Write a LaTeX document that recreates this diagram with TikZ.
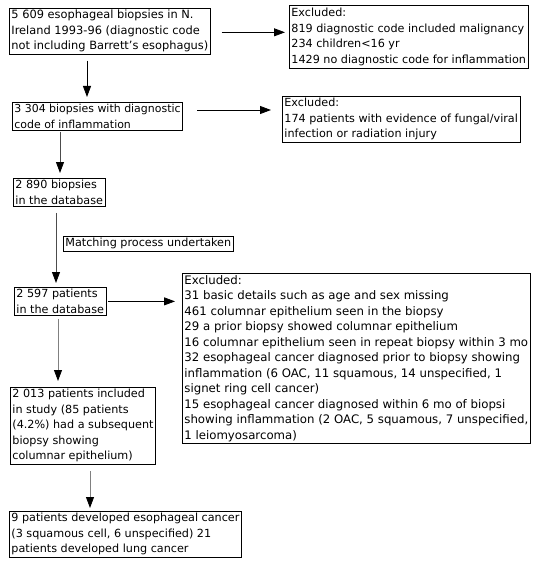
\documentclass[tikz,border=0pt]{standalone}
\usepackage{fontspec}
\setmainfont{DejaVu Sans}
\usetikzlibrary{arrows.meta,calc}
\begin{document}
\begin{tikzpicture}[x=1pt,y=-1pt,
  box/.style={draw, line width=0.8pt, anchor=north west, align=left,
    inner xsep=2pt, inner ysep=1.9pt,
    font=\fontsize{11.2}{15.5}\selectfont},
  fs/.style={font=\fontsize{#1}{15.5}\selectfont},
  arr/.style={-{Triangle[length=11pt,width=8pt,color=black]}, line width=0.8pt},
  garr/.style={arr, draw=black!50},
  darr/.style={arr, draw=black!70}]
\useasboundingbox (0,0) rectangle (535,567);

\node[box, fs=11.4] (b1) at (9,8)
  {5 609 esophageal biopsies in N.\\Ireland 1993-96 (diagnostic code\\not including Barrett's esophagus)};
\node[box, inner ysep=2.8pt] (b2) at (289,5)
  {Excluded:\\819 diagnostic code included malignancy\\234 children<16 yr\\1429 no diagnostic code for inflammation};
\node[box, fs=10.95] (b3) at (12,102)
  {3 304 biopsies with diagnostic\\code of inflammation};
\node[box] (b4) at (282,96)
  {Excluded:\\174 patients with evidence of fungal/viral\\infection or radiation injury};
\node[box] (b5) at (13,178)
  {2 890 biopsies\\in the database};
\node[box] (bm) at (63,236)
  {Matching process undertaken};
\node[box] (b6) at (14,287)
  {2 597 patients\\in the database};
\node[box, fs=11.75] (b7) at (182,273)
  {Excluded:\\31 basic details such as age and sex missing\\461 columnar epithelium seen in the biopsy\\29 a prior biopsy showed columnar epithelium\\16 columnar epithelium seen in repeat biopsy within 3 mo\\32 esophageal cancer diagnosed prior to biopsy showing\\inflammation (6 OAC, 11 squamous, 14 unspecified, 1\\signet ring cell cancer)\\15 esophageal cancer diagnosed within 6 mo of biopsi\\showing inflammation (2 OAC, 5 squamous, 7 unspecified,\\1 leiomyosarcoma)};
\node[box] (b8) at (10,387)
  {2 013 patients included\\in study (85 patients\\(4.2\%) had a subsequent\\biopsy showing\\columnar epithelium)};
\node[box] (b9) at (9,511)
  {9 patients developed esophageal cancer\\(3 squamous cell, 6 unspecified) 21\\patients developed lung cancer};

% connectors
\draw[arr, shorten <=11pt, shorten >=4pt] ([yshift=-1pt]b1.east) -- ([yshift=-1pt]b1.east -| b2.west);
\draw[arr, shorten <=6pt, shorten >=5pt] ([xshift=78pt]b1.south west) -- ([xshift=78pt]b1.south west |- b3.north);
\draw[arr, shorten <=14pt, shorten >=11pt] ([yshift=-8pt]b3.north east) -- ([yshift=-8pt]b3.north east -| b4.west);
\draw[darr, shorten <=1pt, shorten >=5pt] ([xshift=48pt]b3.south west) -- ([xshift=48pt]b3.south west |- b5.north);
\draw[darr, shorten <=6pt, shorten >=4pt] ([xshift=43pt]b5.south west) -- ([xshift=43pt]b5.south west |- b6.north);
\draw[arr, shorten <=2pt, shorten >=7pt] (b6.east) -- (b6.east -| b7.west);
\draw[garr, shorten <=3pt, shorten >=6pt] ([xshift=44pt]b6.south west) -- ([xshift=44pt]b6.south west |- b8.north);
\draw[garr, shorten <=7pt, shorten >=3pt] ([xshift=80pt]b8.south west) -- ([xshift=80pt]b8.south west |- b9.north);
\end{tikzpicture}
\end{document}
